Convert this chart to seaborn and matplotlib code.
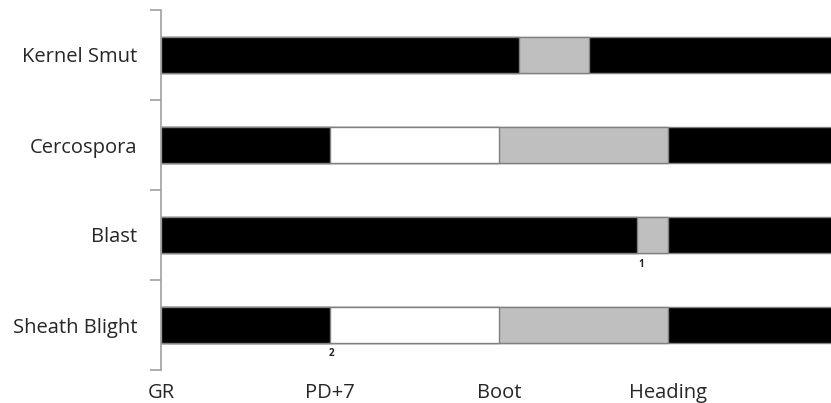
import matplotlib
matplotlib.use("Agg")
import matplotlib.pyplot as plt
import seaborn as sns
import pandas as pd
from matplotlib.ticker import FixedLocator

# ---- data ----
diseases = ["Kernel Smut", "Cercospora", "Blast", "Sheath Blight"]
stage_labels = ["GR", "PD+7", "Boot", "Heading"]
stage_positions = [0, 1, 2, 3]
# cumulative segment ends (in growth-stage units) and fills per disease
seg_ends = {
    "Kernel Smut": [2.12, 2.53, 4.0],
    "Cercospora": [1.0, 2.0, 3.0, 4.0],
    "Blast": [2.815, 3.0, 4.0],
    "Sheath Blight": [1.0, 2.0, 3.0, 4.0],
}
seg_fills = {
    "Kernel Smut": ["black", "gray", "black"],
    "Cercospora": ["black", "white", "gray", "black"],
    "Blast": ["black", "gray", "black"],
    "Sheath Blight": ["black", "white", "gray", "black"],
}
footnotes = [("1", 2.84, 2.33), ("2", 1.01, 3.32)]

palette = {"black": "#000000", "white": "#ffffff", "gray": "#bfbfbf"}

rows = []
for d in diseases:
    for i, (e, f) in enumerate(zip(seg_ends[d], seg_fills[d])):
        rows.append({"disease": d, "layer": i, "end": e, "fill": f})
df = pd.DataFrame(rows)

sns.set_theme(style="white")
plt.rcParams["font.family"] = ["Open Sans", "DejaVu Sans"]

fig = plt.figure(figsize=(8.31, 4.03), dpi=100)
ax = fig.add_axes([161 / 831, 1 - 370 / 403, 1 - 161 / 831, 360 / 403])

for layer in sorted(df["layer"].unique(), reverse=True):
    sub = df[df["layer"] == layer]
    sns.barplot(data=sub, x="end", y="disease", order=diseases, hue="fill",
                palette=palette, dodge=False, width=0.4, orient="h",
                edgecolor="#808080", linewidth=1.0, legend=False, ax=ax,
                errorbar=None)

ax.set_xlim(0, (831 - 161) / 169)
ax.set_ylim(3.5, -0.5)
ax.set_xlabel("")
ax.set_ylabel("")

for spine in ["top", "right", "bottom"]:
    ax.spines[spine].set_visible(False)
ax.spines["left"].set_color("#a0a0a0")
ax.spines["left"].set_linewidth(1.2)

ax.set_yticks(range(len(diseases)))
ax.set_yticklabels(diseases, fontsize=14.5)
ax.yaxis.set_minor_locator(FixedLocator([-0.5, 0.5, 1.5, 2.5, 3.5]))
ax.tick_params(axis="y", which="major", length=0, pad=17)
ax.tick_params(axis="y", which="minor", left=True, length=8, width=1.2,
               color="#a0a0a0")

ax.set_xticks(stage_positions)
ax.set_xticklabels(stage_labels, fontsize=14.5)
ax.tick_params(axis="x", which="major", length=0, pad=9.5)

for txt, x, y in footnotes:
    ax.text(x, y, txt, fontsize=7, fontweight="bold", ha="center",
            va="center", color="#222222")

fig.savefig("out.png", dpi=100)
